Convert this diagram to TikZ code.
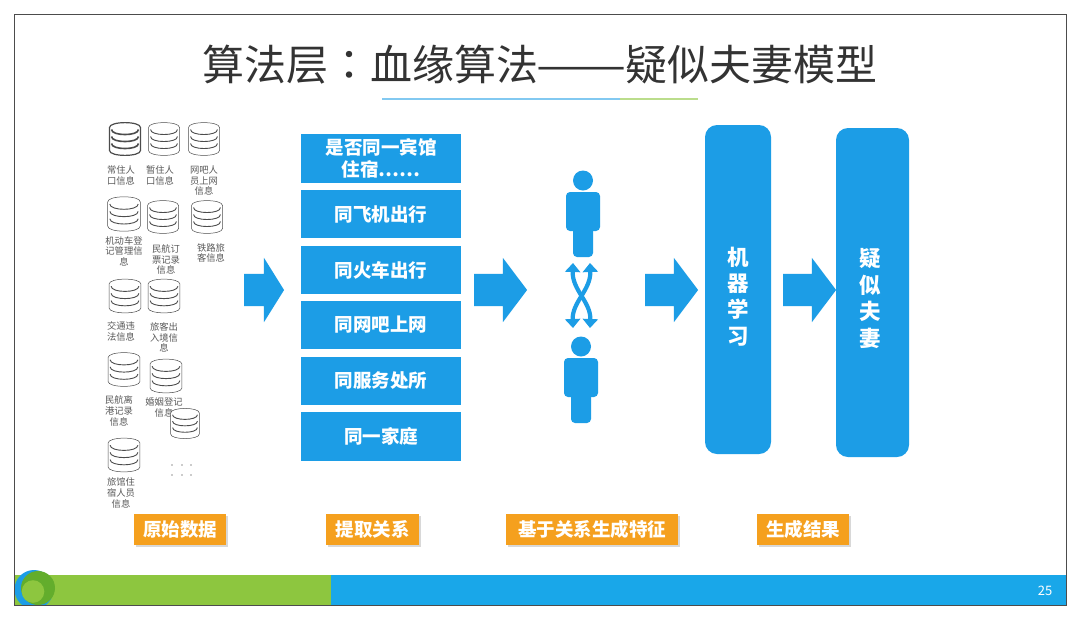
\documentclass[tikz,border=0pt]{standalone}
\usepackage{fontspec}
\setmainfont{Noto Sans CJK SC}
\newfontfamily\colonfont{Noto Sans CJK TC}
\usetikzlibrary{arrows.meta,positioning,shapes.arrows,shadows}
\definecolor{skyblue}{HTML}{1C9DE6}
\definecolor{leafgreen}{HTML}{8DC63F}
\definecolor{tagorange}{HTML}{F5A01E}
\newcommand{\dbicon}[5]{% name, x, y, scale, pen
	\begin{scope}[shift={(#2,#3)}, scale=#4]
		\node [dbnode] (#1) at (0,0) {};
		\filldraw [fill=white, draw=black!70, line width=#5] (-15.5,-11.5) -- (-15.5,11.5) .. controls (-15.5,18) and (15.5,18) .. (15.5,11.5) -- (15.5,-11.5) .. controls (15.5,-18) and (-15.5,-18) .. (-15.5,-11.5) -- cycle;
		\foreach \dy in {-9.5,-2.5,4.5}
			\draw [draw=black!70, line width=#5+.4pt] (-13.5,\dy) .. controls (-13.5,\dy+6.7) and (13.5,\dy+6.7) .. (13.5,\dy);
	\end{scope}
}
\begin{document}
\begin{tikzpicture}[x=1pt,y=-1pt]
	\tikzstyle{dbnode} = [inner sep=0pt, minimum size=1pt]
	\tikzstyle{dblabel} = [text=black!65, align=center, inner sep=0pt, font=\fontsize{9.3}{10.6}\selectfont]
	\tikzstyle{relbox} = [fill=skyblue, text=white, align=center, inner sep=0pt, minimum width=160pt, font=\bfseries\fontsize{18.5}{22}\selectfont]
	\tikzstyle{tagbox} = [fill=tagorange, text=white, inner sep=0pt, minimum height=31pt, font=\bfseries\fontsize{18.5}{20}\selectfont, drop shadow={opacity=.3, shadow xshift=1.5pt, shadow yshift=-1.5pt}]
	\tikzstyle{bigbar} = [fill=skyblue, rounded corners=12pt, inner sep=0pt]
	\tikzstyle{barlabel} = [text=white, inner sep=0pt, align=center, font=\bfseries\fontsize{21.5}{26.4}\selectfont]
	\tikzstyle{bigarrow} = [single arrow, fill=skyblue, inner sep=0pt, minimum width=64pt, single arrow head extend=16pt, single arrow head indent=0pt]
	\tikzstyle{crossarrow} = [draw=skyblue, line width=4.2pt, {Triangle[width=15pt,length=9pt]}-{Triangle[width=15pt,length=9pt]}]

	\useasboundingbox (0,0) rectangle (1080,619);
	\fill [white] (0,0) rectangle (1080,619);

	% footer
	\fill [leafgreen] (14,575) rectangle (331,605);
	\fill [skyblue!90!cyan] (331,575) rectangle (1066,605);
	\begin{scope}
		\clip (14,560) rectangle (1066,605);
		\fill [skyblue] (34,589.5) circle (19.5);
		\fill [green!45!black!30!leafgreen] (38,588) circle (17);
		\fill [leafgreen] (33,591.5) circle (11.3);
	\end{scope}
	\draw [black!70, line width=1pt] (14,14) rectangle (1066,605);
	\node [text=white, font=\fontsize{13}{15}\selectfont] (pagenum) at (1045,591) {25};

	% title
	\node [text=black!80, font=\fontsize{42}{50}\selectfont] (title) at (540,65) {算法层{\colonfont ：}血缘算法\makebox[88pt]{\scalebox{1.28}[1]{——}}疑似夫妻模型};
	\fill [skyblue!55] (382,98.3) rectangle (620,99.8);
	\fill [leafgreen!60] (620,98.3) rectangle (698,99.8);

	% raw data
	\node [dblabel] (lb1) at (121,175.5) {常住人\\口信息};
	\node [dblabel] (lb2) at (160,175.5) {暂住人\\口信息};
	\node [dblabel] (lb3) at (204,180.5) {网吧人\\员上网\\信息};
	\node [dblabel] (lb4) at (124,251) {机动车登\\记管理信\\息};
	\node [dblabel] (lb5) at (166,259.5) {民航订\\票记录\\信息};
	\node [dblabel] (lb6) at (211,253) {铁路旅\\客信息};
	\node [dblabel] (lb7) at (121,331.5) {交通违\\法信息};
	\node [dblabel] (lb8) at (164,337.5) {旅客出\\入境信\\息};
	\node [dblabel] (lb9) at (119,411) {民航离\\港记录\\信息};
	\node [dblabel] (lb10) at (164,407.5) {婚姻登记\\信息};
	\node [dblabel] (lb12) at (121,493) {旅馆住\\宿人员\\信息};
	\dbicon{db1}{125}{139}{1}{1.2pt}
	\dbicon{db2}{164}{139}{1}{.5pt}
	\dbicon{db3}{204}{139}{1}{.5pt}
	\dbicon{db4}{124}{214}{1.05}{.5pt}
	\dbicon{db5}{163}{217}{1}{.5pt}
	\dbicon{db6}{207}{217}{1}{.5pt}
	\dbicon{db7}{125}{296}{1.03}{.5pt}
	\dbicon{db8}{164}{296}{1.03}{.5pt}
	\dbicon{db9}{124}{369.5}{1.03}{.5pt}
	\dbicon{db10}{166}{376}{1.03}{.5pt}
	\dbicon{db11}{185}{423.5}{.92}{.5pt}
	\dbicon{db12}{124}{455}{1.03}{.5pt}
	\foreach \px in {172,182,191}
		\foreach \py in {465,475}
			\fill [black!40] (\px,\py) circle (.9);

	% relations
	\node [relbox, minimum height=49pt] (rel1) at (381,158.5) {是否同一宾馆\\住宿……};
	\node [relbox, minimum height=48pt] (rel2) at (381,214) {同飞机出行};
	\node [relbox, minimum height=48pt] (rel3) at (381,270) {同火车出行};
	\node [relbox, minimum height=48pt] (rel4) at (381,325) {同网吧上网};
	\node [relbox, minimum height=48pt] (rel5) at (381,381) {同服务处所};
	\node [relbox, minimum height=49pt] (rel6) at (381,436.5) {同一家庭};

	% persons
	\foreach \pname/\sx/\sy in {top/0/0,low/-2/166} {
		\begin{scope}[shift={(\sx,\sy)}]
			\fill [skyblue] (583,180.5) circle (10);
			\fill [skyblue, rounded corners=4pt] (566,192) rectangle (600,231);
			\fill [skyblue, rounded corners=4pt] (573,215) rectangle (593,257);
		\end{scope}
	}
	\coordinate (crossTL) at (573,263);
	\coordinate (crossTR) at (590,263);
	\coordinate (crossBL) at (573,328);
	\coordinate (crossBR) at (590,328);
	\draw [crossarrow] (crossTL) .. controls (572,290) and (591,302) .. (crossBR);
	\draw [crossarrow] (crossTR) .. controls (591,290) and (572,302) .. (crossBL);

	% result bars
	\node [bigbar, minimum width=66pt, minimum height=329pt] (learn) at (738,289.5) {};
	\node [barlabel] (learntxt) at (738,296.5) {机\\器\\学\\习};
	\node [bigbar, minimum width=73pt, minimum height=329pt] (couple) at (872.5,292.5) {};
	\node [barlabel] (coupletxt) at (870,298.5) {疑\\似\\夫\\妻};

	% block arrows
	\node [bigarrow, minimum height=40pt, single arrow tip angle=116] (step1) at (259,290) {\rule{0pt}{32pt}};
	\node [bigarrow, minimum height=53pt, single arrow tip angle=106] (step2) at (494.5,290) {\rule{0pt}{32pt}};
	\node [bigarrow, minimum height=53pt, single arrow tip angle=106] (step3) at (665.5,290) {\rule{0pt}{32pt}};
	\node [bigarrow, minimum height=53pt, single arrow tip angle=106] (step4) at (803.5,290) {\rule{0pt}{32pt}};

	% captions
	\node [tagbox, minimum width=92pt] (tag1) at (180,529.5) {原始数据};
	\node [tagbox, minimum width=93pt] (tag2) at (372.5,529.5) {提取关系};
	\node [tagbox, minimum width=172pt] (tag3) at (592,529.5) {基于关系生成特征};
	\node [tagbox, minimum width=92pt] (tag4) at (803,529.5) {生成结果};
\end{tikzpicture}
\end{document}
